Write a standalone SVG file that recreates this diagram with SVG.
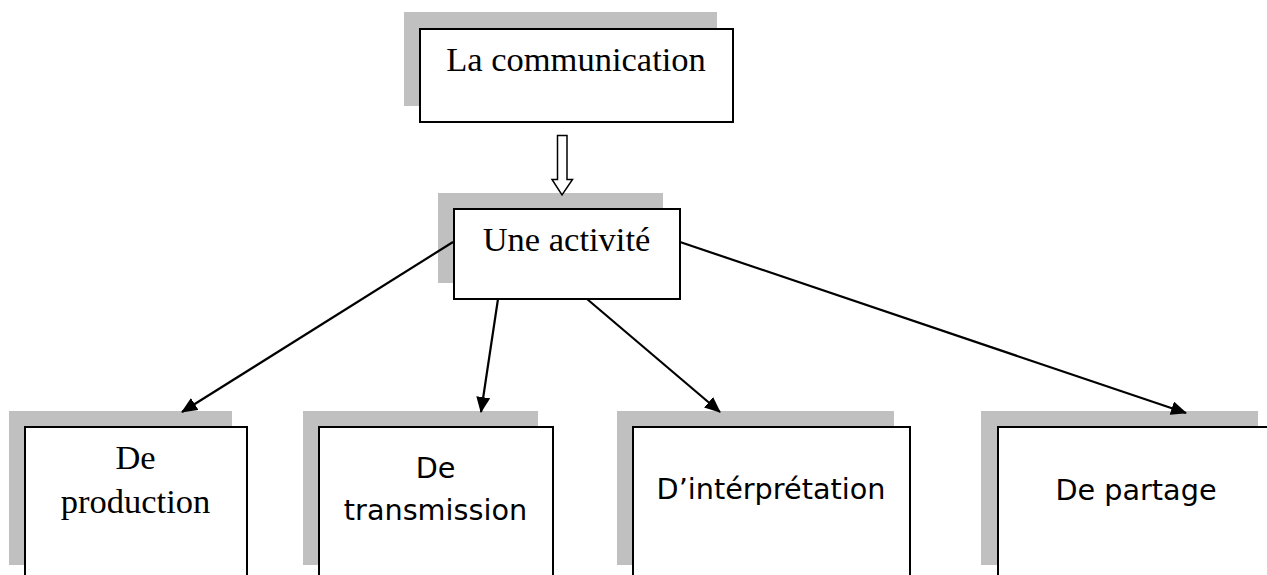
<svg xmlns="http://www.w3.org/2000/svg" width="1267" height="575" viewBox="0 0 1267 575">
<style>
.shadow{fill:#c0c0c0;stroke:none}
.box{fill:#ffffff;stroke:#000000;stroke-width:2}
.serif{font-family:"Liberation Serif","Times New Roman",serif;font-size:34.5px;fill:#000;text-anchor:middle}
.sans{font-family:"DejaVu Sans",Verdana,sans-serif;font-size:28.7px;fill:#000;text-anchor:middle}
.conn{stroke:#000;stroke-width:2.2;fill:none;marker-end:url(#ah)}
</style>
<defs>
<marker id="ah" viewBox="0 0 16 14" refX="15" refY="7" markerWidth="16" markerHeight="14" markerUnits="userSpaceOnUse" orient="auto">
<path d="M0,0 L16,7 L0,14 Z" fill="#000"/>
</marker>
</defs>
<rect width="1267" height="575" fill="#ffffff"/>
<g id="node-communication">
<rect class="shadow" x="404" y="12" width="313" height="94"/>
<rect class="box" x="420" y="29" width="313" height="93"/>
<text class="serif" x="576" y="71">La communication</text>
</g>
<g id="node-activite">
<rect class="shadow" x="438" y="193" width="225" height="90"/>
<rect class="box" x="454" y="209" width="226" height="90"/>
<text class="serif" x="566.5" y="251">Une activité</text>
</g>
<g id="node-production">
<rect class="shadow" x="9" y="411" width="223" height="154"/>
<rect class="box" x="25" y="427" width="222" height="154"/>
<text class="serif" x="135.5" y="469">De</text>
<text class="serif" x="135.5" y="513">production</text>
</g>
<g id="node-transmission">
<rect class="shadow" x="303" y="411" width="235" height="154"/>
<rect class="box" x="319" y="427" width="234" height="154"/>
<text class="sans" x="435.5" y="478">De</text>
<text class="sans" x="435.5" y="520">transmission</text>
</g>
<g id="node-interpretation">
<rect class="shadow" x="617" y="411" width="277" height="154"/>
<rect class="box" x="633" y="427" width="277" height="154"/>
<text class="sans" x="771" y="499">D’intérprétation</text>
</g>
<g id="node-partage">
<rect class="shadow" x="981" y="411" width="277" height="154"/>
<rect class="box" x="998" y="427" width="277" height="154"/>
<text class="sans" x="1136" y="500">De partage</text>
</g>
<g id="connectors">
<path d="M557.5,135.5 H567 V179.5 H572.5 L562,195 L552,179.5 H557.5 Z" fill="#ffffff" stroke="#000" stroke-width="1.5"/>
<line class="conn" x1="453" y1="242" x2="182" y2="412"/>
<line class="conn" x1="498" y1="299" x2="481" y2="412"/>
<line class="conn" x1="587" y1="299" x2="720" y2="412"/>
<line class="conn" x1="680" y1="242" x2="1186" y2="413"/>
</g>
</svg>
